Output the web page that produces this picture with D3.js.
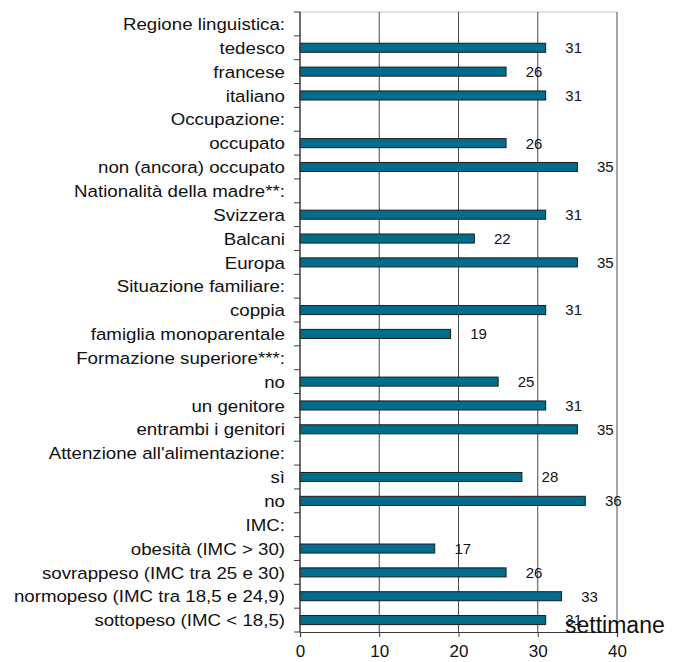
<!DOCTYPE html>
<html>
<head>
<meta charset="utf-8">
<script src="https://cdn.jsdelivr.net/npm/d3@7"></script>
<style>
  html, body { margin: 0; padding: 0; background: #fff; }
  svg { display: block; font-family: "Liberation Sans", Arial, sans-serif; }
</style>
</head>
<body>
<svg id="chart" width="676" height="662"></svg>
<script>
// Rows from top to bottom; group headings have no value
const categories = [
  "Regione linguistica:", "tedesco", "francese", "italiano",
  "Occupazione:", "occupato", "non (ancora) occupato",
  "Nationalità della madre**:", "Svizzera", "Balcani", "Europa",
  "Situazione familiare:", "coppia", "famiglia monoparentale",
  "Formazione superiore***:", "no", "un genitore", "entrambi i genitori",
  "Attenzione all'alimentazione:", "sì", "no",
  "IMC:", "obesità (IMC > 30)", "sovrappeso (IMC tra 25 e 30)",
  "normopeso (IMC tra 18,5 e 24,9)", "sottopeso (IMC < 18,5)"
];
const weeks = [
  null, 31, 26, 31,
  null, 26, 35,
  null, 31, 22, 35,
  null, 31, 19,
  null, 25, 31, 35,
  null, 28, 36,
  null, 17, 26, 33, 31
];
const xTicks = [0, 10, 20, 30, 40];
const unitLabel = "settimane";

const svg = d3.select("#chart");
const plotLeft = 300, plotRight = 617, plotTop = 12, plotBottom = 632;

const x = d3.scaleLinear().domain([0, 40]).range([plotLeft, plotRight]);
const y = d3.scaleBand()
  .domain(d3.range(categories.length))
  .range([plotTop, plotBottom])
  .paddingInner(0.62)
  .paddingOuter(0.31);

// frame: light top edge
svg.append("line")
  .attr("x1", plotLeft).attr("x2", plotRight)
  .attr("y1", plotTop).attr("y2", plotTop)
  .attr("stroke", "#c4c4c4").attr("stroke-width", 1);

// vertical gridlines
svg.append("g").selectAll("line")
  .data(xTicks.filter(d => d > 0))
  .join("line")
  .attr("x1", d => x(d)).attr("x2", d => x(d))
  .attr("y1", plotTop).attr("y2", plotBottom)
  .attr("stroke", "#4a4a4a").attr("stroke-width", 1);

const rows = weeks.map((v, i) => ({ v, i })).filter(d => d.v !== null);

// bars
svg.append("g").selectAll("rect")
  .data(rows)
  .join("rect")
  .attr("x", x(0))
  .attr("y", d => y(d.i))
  .attr("width", d => x(d.v) - x(0))
  .attr("height", y.bandwidth())
  .attr("fill", "#006d8c")
  .attr("stroke", "#1c1c1c")
  .attr("stroke-width", 1);

// value labels
svg.append("g").selectAll("text")
  .data(rows)
  .join("text")
  .attr("x", d => x(d.v) + 28)
  .attr("y", d => y(d.i) + y.bandwidth() / 2)
  .attr("dy", "0.36em")
  .attr("text-anchor", "middle")
  .attr("font-size", 15)
  .attr("fill", "#111")
  .text(d => d3.format("d")(d.v));

// category axis: ticks on row boundaries
const step = y.step();
svg.append("g").selectAll("line")
  .data(d3.range(categories.length + 1))
  .join("line")
  .attr("x1", plotLeft - 6).attr("x2", plotLeft)
  .attr("y1", d => plotTop + d * step).attr("y2", d => plotTop + d * step)
  .attr("stroke", "#3a3a3a").attr("stroke-width", 1);

svg.append("line")
  .attr("x1", plotLeft).attr("x2", plotLeft)
  .attr("y1", plotTop).attr("y2", plotBottom)
  .attr("stroke", "#3a3a3a").attr("stroke-width", 1.5);

svg.append("g").selectAll("g")
  .data(categories)
  .join("g")
  .attr("transform", (d, i) => `translate(285,${y(i) + y.bandwidth() / 2}) scale(1.1,1)`)
  .append("text")
  .attr("text-anchor", "end")
  .attr("dy", "0.36em")
  .attr("font-size", 17)
  .attr("fill", "#111")
  .text(d => d);

// value axis
const xAxis = d3.axisBottom(x).tickValues(xTicks).tickSize(5).tickPadding(8).tickFormat(d3.format("d"));
const gx = svg.append("g").attr("transform", `translate(0,${plotBottom})`).call(xAxis);
gx.select(".domain").attr("stroke", "#3a3a3a").attr("stroke-width", 1.2);
gx.selectAll(".tick line").attr("stroke", "#3a3a3a");
gx.selectAll(".tick text")
  .attr("font-family", "Liberation Sans, Arial, sans-serif")
  .attr("font-size", 17).attr("fill", "#111");

// unit label
svg.append("text")
  .attr("x", 565).attr("y", 633)
  .attr("font-size", 23)
  .attr("fill", "#111")
  .text(unitLabel);
</script>
</body>
</html>
